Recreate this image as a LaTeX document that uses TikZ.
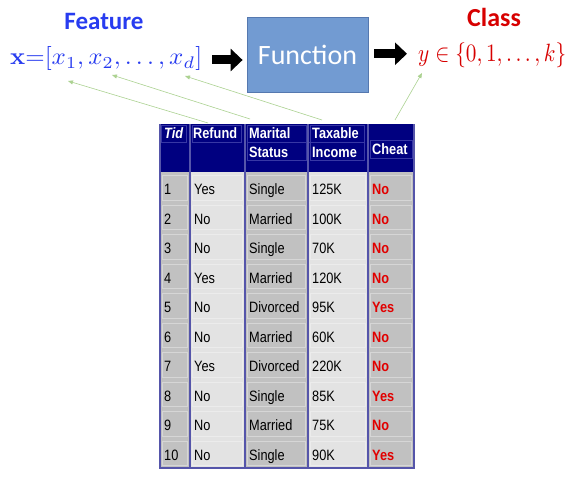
\documentclass[tikz,border=0pt]{standalone}
\usepackage[no-math]{fontspec}
\usepackage{graphicx}
\setmainfont{Liberation Sans}
\newfontfamily\tabfont[FakeStretch=0.85]{Liberation Sans}
\newfontfamily\calfont{Carlito}
\usetikzlibrary{arrows.meta}
\definecolor{featblue}{RGB}{40,60,240}
\definecolor{clsred}{RGB}{215,0,0}
\definecolor{funcfill}{RGB}{114,155,210}
\definecolor{funcborder}{RGB}{85,120,175}
\definecolor{linkgreen}{RGB}{172,210,145}
\definecolor{hdrnavy}{RGB}{0,0,128}
\definecolor{hdrframe}{RGB}{55,55,165}
\definecolor{colsep}{RGB}{85,85,170}
\definecolor{cellgray}{RGB}{193,193,193}
\definecolor{celllight}{RGB}{227,227,227}
\definecolor{cheatred}{RGB}{225,0,0}
\newcommand{\tdots}{\mathinner{{.}\mkern3mu{.}\mkern3mu{.}}}
\tikzset{
  bigarrow/.style={line width=9pt,-{Triangle[length=12pt,width=22pt]}},
  linkarrow/.style={draw=linkgreen,line width=0.6pt,-{Triangle[length=5pt,width=4pt]}},
  hdrtext/.style={anchor=base west,inner sep=0,text=white,font=\tabfont\bfseries\fontsize{15}{17}\selectfont},
  celltext/.style={anchor=base west,inner sep=0,text=black,font=\tabfont\fontsize{15}{17}\selectfont},
  cheattext/.style={anchor=base west,inner sep=0,text=cheatred,font=\tabfont\bfseries\fontsize{15}{17}\selectfont},
  hframe/.style={draw=hdrframe,line width=0.5pt},
  cframe/.style={draw=white,draw opacity=0.35,line width=0.6pt},
}
\begin{document}
\begin{tikzpicture}[x=1pt,y=-1pt]
\useasboundingbox[fill=white] (0,0) rectangle (579,489);

% ---- top row ----
\node[anchor=base,inner sep=0,text=featblue,font=\calfont\bfseries\fontsize{25}{30}\selectfont] (featlbl) at (104,30) {Feature};
\node[anchor=base west,inner sep=0,text=featblue] (feat) at (10,65)
  {\resizebox*{192pt}{24pt}{$\mathbf{x}{=}[x_1, x_2, \tdots, x_d]$}};
\node[draw=funcborder,fill=funcfill,line width=0.8pt,minimum width=121pt,minimum height=75pt,inner sep=0,
  text=white,font=\calfont\fontsize{28}{32}\selectfont] (func) at (307.5,54.5) {Function};
\node[anchor=base,inner sep=0,text=clsred,font=\calfont\bfseries\fontsize{26}{30}\selectfont] (clslbl) at (494,27) {Class};
\node[anchor=base west,inner sep=0,text=clsred] (cls) at (418,62)
  {\resizebox*{148pt}{25pt}{$y\in\{0, 1, \tdots, k\}$}};

\draw[bigarrow] ([xshift=10pt,yshift=-1pt]feat.east) -- ([xshift=-4pt,yshift=-1pt]func.west |- feat.east);
\draw[bigarrow] ([xshift=6pt,yshift=2pt]func.east |- cls.west) -- ([xshift=-11pt,yshift=2pt]cls.west);

% ---- table ----
% body columns
\fill[cellgray]  (160,172) rectangle (190,468);
\fill[celllight] (190,172) rectangle (245,468);
\fill[cellgray]  (245,172) rectangle (308,468);
\fill[celllight] (308,172) rectangle (368,468);
\fill[cellgray]  (368,172) rectangle (414,468);
% cell frames
\foreach \i in {0,...,9}{
  \foreach \xa/\xb in {160/190,190/245,245/308,308/368,368/414}{
    \draw[cframe] (\xa+2.5,173+29.5*\i+2.5) rectangle (\xb-2.5,173+29.5*\i+27);
  }
}
% header
\fill[hdrnavy] (160,124) rectangle (414,172);
\draw[hframe] (161.5,125) rectangle (186,142);
\draw[hframe] (192,125) rectangle (241,142);
\draw[hframe] (247,125) rectangle (306,160);
\draw[hframe] (310,125) rectangle (364,160);
\draw[hframe] (247,142) -- (364,142);
\draw[hframe] (370,140) rectangle (412,158);
\node[hdrtext,font=\tabfont\bfseries\itshape\fontsize{15}{17}\selectfont] (hTid) at (164,139) {Tid};
\node[hdrtext] (hRef) at (193,139) {Refund};
\node[hdrtext] (hMar) at (249,139) {Marital};
\node[hdrtext] (hSta) at (249,158) {Status};
\node[hdrtext] (hTax) at (312,139) {Taxable};
\node[hdrtext] (hInc) at (312,158) {Income};
\node[hdrtext] (hChe) at (372,155) {Cheat};
% column separators and border
\foreach \x in {190,245,308,368}{
  \draw[colsep,line width=1.1pt] (\x,124) -- (\x,468);
}
\draw[colsep,line width=1.1pt] (160,124) -- (160,468) -- (414,468) -- (414,124);
% body text
\foreach \i/\r/\m/\t/\c [count=\k from 0] in {
  1/Yes/Single/125K/No, 2/No/Married/100K/No, 3/No/Single/70K/No,
  4/Yes/Married/120K/No, 5/No/Divorced/95K/Yes, 6/No/Married/60K/No,
  7/Yes/Divorced/220K/No, 8/No/Single/85K/Yes, 9/No/Married/75K/No,
  10/No/Single/90K/Yes}{
  \node[celltext] (tid\i) at (164,195+29.5*\k) {\i};
  \node[celltext] (ref\i) at (194,195+29.5*\k) {\r};
  \node[celltext] (mar\i) at (249,195+29.5*\k) {\m};
  \node[celltext] (tax\i) at (312,195+29.5*\k) {\t};
  \node[cheattext] (che\i) at (372,195+29.5*\k) {\c};
}

% ---- green links ----
\coordinate (hx1) at (68,81);
\coordinate (hx2) at (112,75);
\coordinate (hxd) at (185,76);
\coordinate (hy) at (422,73);
\coordinate (tRef) at (208,123);
\coordinate (tMar) at (250,119);
\coordinate (tTax) at (322,120);
\coordinate (tChe) at (395,120);
\draw[linkarrow] (tRef) -- (hx1);
\draw[linkarrow] (tMar) -- (hx2);
\draw[linkarrow] (tTax) -- (hxd);
\draw[linkarrow] (tChe) -- (hy);
\end{tikzpicture}
\end{document}
